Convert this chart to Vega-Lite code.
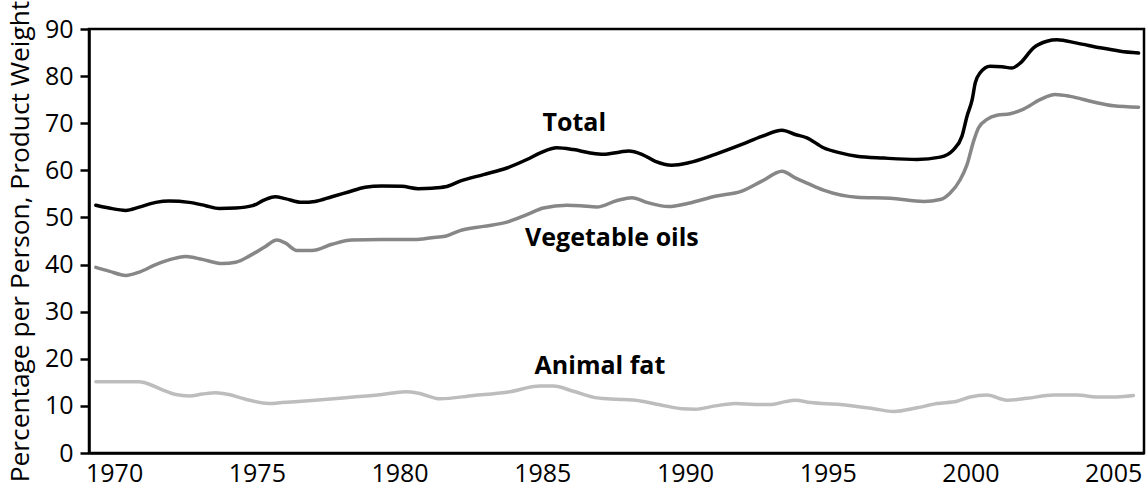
{
  "$schema": "https://vega.github.io/schema/vega-lite/v6.json",
  "width": 1055,
  "height": 424,
  "autosize": "none",
  "padding": {"left": 89, "top": 29, "right": 3, "bottom": 47},
  "background": "white",
  "config": {
    "view": {"stroke": "black", "strokeWidth": 2.5},
    "font": "Open Sans",
    "axis": {
      "labelFont": "Open Sans",
      "labelFontSize": 25,
      "labelColor": "black",
      "titleFont": "Open Sans",
      "titleFontSize": 26.3,
      "titleFontWeight": "normal",
      "titleColor": "black",
      "grid": false,
      "domainColor": "black",
      "domainWidth": 2.5,
      "tickColor": "black",
      "tickWidth": 2.5
    }
  },
  "datasets": {
    "lines": [
      {"series": "Total", "year": 1969.36, "value": 52.6},
      {"series": "Total", "year": 1969.82, "value": 52.0},
      {"series": "Total", "year": 1970.41, "value": 51.5},
      {"series": "Total", "year": 1970.88, "value": 52.2},
      {"series": "Total", "year": 1971.46, "value": 53.2},
      {"series": "Total", "year": 1971.93, "value": 53.5},
      {"series": "Total", "year": 1972.63, "value": 53.2},
      {"series": "Total", "year": 1973.21, "value": 52.5},
      {"series": "Total", "year": 1973.68, "value": 51.9},
      {"series": "Total", "year": 1974.26, "value": 52.0},
      {"series": "Total", "year": 1974.85, "value": 52.5},
      {"series": "Total", "year": 1975.29, "value": 53.8},
      {"series": "Total", "year": 1975.64, "value": 54.4},
      {"series": "Total", "year": 1975.99, "value": 54.0},
      {"series": "Total", "year": 1976.58, "value": 53.2},
      {"series": "Total", "year": 1977.04, "value": 53.4},
      {"series": "Total", "year": 1977.63, "value": 54.4},
      {"series": "Total", "year": 1978.21, "value": 55.4},
      {"series": "Total", "year": 1978.79, "value": 56.4},
      {"series": "Total", "year": 1979.38, "value": 56.7},
      {"series": "Total", "year": 1980.08, "value": 56.6},
      {"series": "Total", "year": 1980.66, "value": 56.1},
      {"series": "Total", "year": 1981.13, "value": 56.2},
      {"series": "Total", "year": 1981.6, "value": 56.5},
      {"series": "Total", "year": 1982.12, "value": 57.7},
      {"series": "Total", "year": 1982.94, "value": 59.1},
      {"series": "Total", "year": 1983.76, "value": 60.5},
      {"series": "Total", "year": 1984.46, "value": 62.3},
      {"series": "Total", "year": 1984.93, "value": 63.7},
      {"series": "Total", "year": 1985.51, "value": 64.8},
      {"series": "Total", "year": 1986.09, "value": 64.4},
      {"series": "Total", "year": 1986.68, "value": 63.7},
      {"series": "Total", "year": 1987.14, "value": 63.4},
      {"series": "Total", "year": 1987.73, "value": 63.9},
      {"series": "Total", "year": 1988.02, "value": 64.1},
      {"series": "Total", "year": 1988.49, "value": 63.4},
      {"series": "Total", "year": 1988.96, "value": 61.9},
      {"series": "Total", "year": 1989.54, "value": 61.1},
      {"series": "Total", "year": 1990.12, "value": 61.6},
      {"series": "Total", "year": 1991.06, "value": 63.4},
      {"series": "Total", "year": 1991.99, "value": 65.5},
      {"series": "Total", "year": 1992.69, "value": 67.2},
      {"series": "Total", "year": 1993.4, "value": 68.5},
      {"series": "Total", "year": 1993.86, "value": 67.6},
      {"series": "Total", "year": 1994.27, "value": 66.9},
      {"series": "Total", "year": 1994.85, "value": 64.8},
      {"series": "Total", "year": 1995.44, "value": 63.7},
      {"series": "Total", "year": 1996.02, "value": 63.0},
      {"series": "Total", "year": 1996.96, "value": 62.6},
      {"series": "Total", "year": 1998.12, "value": 62.3},
      {"series": "Total", "year": 1998.94, "value": 62.8},
      {"series": "Total", "year": 1999.41, "value": 64.4},
      {"series": "Total", "year": 1999.7, "value": 67.2},
      {"series": "Total", "year": 1999.88, "value": 71.5},
      {"series": "Total", "year": 2000.06, "value": 75.0},
      {"series": "Total", "year": 2000.17, "value": 78.6},
      {"series": "Total", "year": 2000.34, "value": 80.7},
      {"series": "Total", "year": 2000.69, "value": 82.1},
      {"series": "Total", "year": 2001.1, "value": 82.0},
      {"series": "Total", "year": 2001.45, "value": 81.7},
      {"series": "Total", "year": 2001.75, "value": 82.8},
      {"series": "Total", "year": 2002.21, "value": 86.0},
      {"series": "Total", "year": 2002.68, "value": 87.4},
      {"series": "Total", "year": 2003.03, "value": 87.7},
      {"series": "Total", "year": 2003.73, "value": 87.0},
      {"series": "Total", "year": 2004.55, "value": 86.0},
      {"series": "Total", "year": 2005.25, "value": 85.3},
      {"series": "Total", "year": 2005.89, "value": 84.9},

      {"series": "Vegetable oils", "year": 1969.36, "value": 39.4},
      {"series": "Vegetable oils", "year": 1969.82, "value": 38.6},
      {"series": "Vegetable oils", "year": 1970.41, "value": 37.7},
      {"series": "Vegetable oils", "year": 1970.88, "value": 38.4},
      {"series": "Vegetable oils", "year": 1971.46, "value": 40.0},
      {"series": "Vegetable oils", "year": 1972.04, "value": 41.2},
      {"series": "Vegetable oils", "year": 1972.51, "value": 41.7},
      {"series": "Vegetable oils", "year": 1973.09, "value": 41.1},
      {"series": "Vegetable oils", "year": 1973.79, "value": 40.2},
      {"series": "Vegetable oils", "year": 1974.26, "value": 40.5},
      {"series": "Vegetable oils", "year": 1974.73, "value": 41.8},
      {"series": "Vegetable oils", "year": 1975.29, "value": 43.8},
      {"series": "Vegetable oils", "year": 1975.7, "value": 45.2},
      {"series": "Vegetable oils", "year": 1975.99, "value": 44.6},
      {"series": "Vegetable oils", "year": 1976.4, "value": 43.0},
      {"series": "Vegetable oils", "year": 1976.93, "value": 43.0},
      {"series": "Vegetable oils", "year": 1977.63, "value": 44.3},
      {"series": "Vegetable oils", "year": 1978.33, "value": 45.2},
      {"series": "Vegetable oils", "year": 1979.38, "value": 45.3},
      {"series": "Vegetable oils", "year": 1980.55, "value": 45.3},
      {"series": "Vegetable oils", "year": 1981.13, "value": 45.7},
      {"series": "Vegetable oils", "year": 1981.6, "value": 46.0},
      {"series": "Vegetable oils", "year": 1982.12, "value": 47.2},
      {"series": "Vegetable oils", "year": 1982.94, "value": 48.1},
      {"series": "Vegetable oils", "year": 1983.76, "value": 49.0},
      {"series": "Vegetable oils", "year": 1984.46, "value": 50.6},
      {"series": "Vegetable oils", "year": 1985.04, "value": 52.0},
      {"series": "Vegetable oils", "year": 1985.86, "value": 52.6},
      {"series": "Vegetable oils", "year": 1986.33, "value": 52.5},
      {"series": "Vegetable oils", "year": 1986.91, "value": 52.2},
      {"series": "Vegetable oils", "year": 1987.62, "value": 53.6},
      {"series": "Vegetable oils", "year": 1988.14, "value": 54.2},
      {"series": "Vegetable oils", "year": 1988.72, "value": 53.1},
      {"series": "Vegetable oils", "year": 1989.42, "value": 52.3},
      {"series": "Vegetable oils", "year": 1990.12, "value": 53.0},
      {"series": "Vegetable oils", "year": 1991.06, "value": 54.5},
      {"series": "Vegetable oils", "year": 1991.99, "value": 55.6},
      {"series": "Vegetable oils", "year": 1992.69, "value": 57.7},
      {"series": "Vegetable oils", "year": 1993.4, "value": 59.8},
      {"series": "Vegetable oils", "year": 1993.86, "value": 58.4},
      {"series": "Vegetable oils", "year": 1994.27, "value": 57.3},
      {"series": "Vegetable oils", "year": 1994.85, "value": 55.8},
      {"series": "Vegetable oils", "year": 1996.02, "value": 54.3},
      {"series": "Vegetable oils", "year": 1997.19, "value": 54.1},
      {"series": "Vegetable oils", "year": 1998.36, "value": 53.4},
      {"series": "Vegetable oils", "year": 1998.94, "value": 53.8},
      {"series": "Vegetable oils", "year": 1999.29, "value": 55.2},
      {"series": "Vegetable oils", "year": 1999.64, "value": 58.0},
      {"series": "Vegetable oils", "year": 1999.88, "value": 61.2},
      {"series": "Vegetable oils", "year": 2000.11, "value": 66.2},
      {"series": "Vegetable oils", "year": 2000.28, "value": 69.0},
      {"series": "Vegetable oils", "year": 2000.58, "value": 70.8},
      {"series": "Vegetable oils", "year": 2000.93, "value": 71.7},
      {"series": "Vegetable oils", "year": 2001.39, "value": 72.0},
      {"series": "Vegetable oils", "year": 2001.86, "value": 73.0},
      {"series": "Vegetable oils", "year": 2002.44, "value": 75.0},
      {"series": "Vegetable oils", "year": 2002.97, "value": 76.1},
      {"series": "Vegetable oils", "year": 2003.5, "value": 75.7},
      {"series": "Vegetable oils", "year": 2004.31, "value": 74.5},
      {"series": "Vegetable oils", "year": 2005.01, "value": 73.7},
      {"series": "Vegetable oils", "year": 2005.89, "value": 73.4},

      {"series": "Animal fat", "year": 1969.36, "value": 15.1},
      {"series": "Animal fat", "year": 1970.06, "value": 15.1},
      {"series": "Animal fat", "year": 1970.88, "value": 15.1},
      {"series": "Animal fat", "year": 1971.23, "value": 14.6},
      {"series": "Animal fat", "year": 1971.69, "value": 13.4},
      {"series": "Animal fat", "year": 1972.16, "value": 12.4},
      {"series": "Animal fat", "year": 1972.63, "value": 12.1},
      {"series": "Animal fat", "year": 1973.09, "value": 12.5},
      {"series": "Animal fat", "year": 1973.56, "value": 12.8},
      {"series": "Animal fat", "year": 1974.03, "value": 12.4},
      {"series": "Animal fat", "year": 1974.61, "value": 11.4},
      {"series": "Animal fat", "year": 1975.43, "value": 10.5},
      {"series": "Animal fat", "year": 1975.88, "value": 10.7},
      {"series": "Animal fat", "year": 1977.04, "value": 11.2},
      {"series": "Animal fat", "year": 1978.21, "value": 11.8},
      {"series": "Animal fat", "year": 1979.38, "value": 12.4},
      {"series": "Animal fat", "year": 1980.2, "value": 13.0},
      {"series": "Animal fat", "year": 1980.66, "value": 12.7},
      {"series": "Animal fat", "year": 1981.42, "value": 11.5},
      {"series": "Animal fat", "year": 1982.59, "value": 12.2},
      {"series": "Animal fat", "year": 1983.76, "value": 12.9},
      {"series": "Animal fat", "year": 1984.93, "value": 14.2},
      {"series": "Animal fat", "year": 1985.39, "value": 14.2},
      {"series": "Animal fat", "year": 1986.09, "value": 13.1},
      {"series": "Animal fat", "year": 1986.91, "value": 11.7},
      {"series": "Animal fat", "year": 1987.62, "value": 11.4},
      {"series": "Animal fat", "year": 1988.26, "value": 11.2},
      {"series": "Animal fat", "year": 1989.08, "value": 10.3},
      {"series": "Animal fat", "year": 1989.89, "value": 9.4},
      {"series": "Animal fat", "year": 1990.36, "value": 9.3},
      {"series": "Animal fat", "year": 1991.06, "value": 10.0},
      {"series": "Animal fat", "year": 1991.76, "value": 10.5},
      {"series": "Animal fat", "year": 1992.46, "value": 10.3},
      {"series": "Animal fat", "year": 1993.04, "value": 10.3},
      {"series": "Animal fat", "year": 1993.51, "value": 10.9},
      {"series": "Animal fat", "year": 1993.86, "value": 11.2},
      {"series": "Animal fat", "year": 1994.39, "value": 10.7},
      {"series": "Animal fat", "year": 1995.44, "value": 10.3},
      {"series": "Animal fat", "year": 1996.61, "value": 9.4},
      {"series": "Animal fat", "year": 1997.31, "value": 8.8},
      {"series": "Animal fat", "year": 1998.13, "value": 9.6},
      {"series": "Animal fat", "year": 1998.83, "value": 10.5},
      {"series": "Animal fat", "year": 1999.53, "value": 11.0},
      {"series": "Animal fat", "year": 1999.99, "value": 11.9},
      {"series": "Animal fat", "year": 2000.58, "value": 12.3},
      {"series": "Animal fat", "year": 2001.28, "value": 11.2},
      {"series": "Animal fat", "year": 2001.98, "value": 11.6},
      {"series": "Animal fat", "year": 2002.91, "value": 12.3},
      {"series": "Animal fat", "year": 2003.73, "value": 12.3},
      {"series": "Animal fat", "year": 2004.43, "value": 11.9},
      {"series": "Animal fat", "year": 2005.13, "value": 11.9},
      {"series": "Animal fat", "year": 2005.71, "value": 12.2}
    ],
    "labels": [
      {"label": "Total", "year": 1986.12, "value": 68.3},
      {"label": "Vegetable oils", "year": 1987.44, "value": 43.9},
      {"label": "Animal fat", "year": 1987.02, "value": 16.7}
    ]
  },
  "layer": [
    {
      "data": {"name": "lines"},
      "mark": {"type": "line", "interpolate": "monotone", "strokeWidth": 3.5, "strokeCap": "round", "clip": true},
      "encoding": {
        "x": {
          "field": "year",
          "type": "quantitative",
          "scale": {"domain": [1969.12, 2006.08], "nice": false, "zero": false},
          "axis": {
            "title": null,
            "values": [1970, 1975, 1980, 1985, 1990, 1995, 2000, 2005],
            "format": "d",
            "ticks": false,
            "labelPadding": 8,
            "labelFlush": false
          }
        },
        "y": {
          "field": "value",
          "type": "quantitative",
          "scale": {"domain": [0, 90], "nice": false},
          "axis": {
            "title": "Percentage per Person, Product Weight",
            "values": [0, 10, 20, 30, 40, 50, 60, 70, 80, 90],
            "tickSize": 9,
            "labelPadding": 7,
            "titlePadding": 10,
            "labelFlush": false
          }
        },
        "color": {
          "field": "series",
          "type": "nominal",
          "scale": {"domain": ["Total", "Vegetable oils", "Animal fat"], "range": ["#000000", "#878787", "#bdbdbd"]},
          "legend": null
        },
        "detail": {"field": "series"}
      }
    },
    {
      "data": {"name": "labels"},
      "mark": {"type": "text", "font": "Open Sans", "fontSize": 25, "fontWeight": "bold", "color": "black", "align": "center", "baseline": "alphabetic"},
      "encoding": {
        "x": {"field": "year", "type": "quantitative"},
        "y": {"field": "value", "type": "quantitative"},
        "text": {"field": "label"}
      }
    }
  ]
}
